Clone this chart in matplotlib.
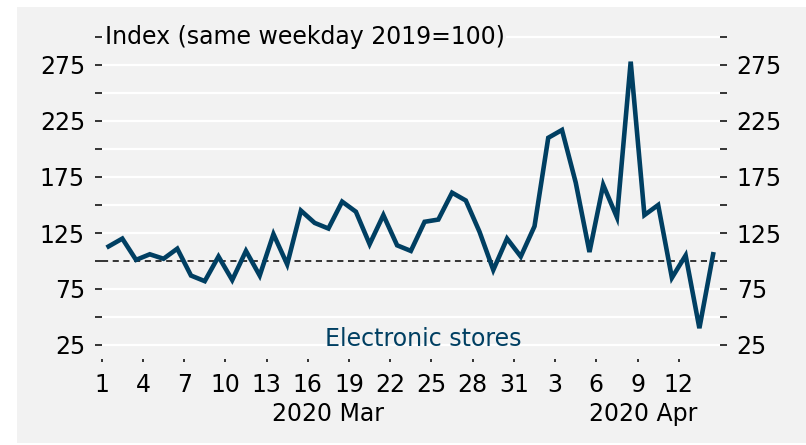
import matplotlib
import numpy as np

matplotlib.use('Agg')
from matplotlib import pyplot as plt
from matplotlib.patches import Rectangle

# daily index, 1 Mar - 14 Apr 2020 (same weekday 2019 = 100)
values = [113, 120, 101, 106, 102, 111, 87, 82, 104, 83, 109, 87, 124, 97, 145,
          134, 129, 153, 144, 115, 141, 114, 109, 135, 137, 161, 154, 126, 92, 120,
          104, 131, 210, 217, 170, 108, 168, 139, 278, 141, 150, 85, 105, 40, 106]
days = np.arange(len(values)) + 0.5   # days since 1 Mar, plotted at midday

xtick_pos = [0, 3, 6, 9, 12, 15, 18, 21, 24, 27, 30, 33, 36, 39, 42]
xtick_labels = ["1", "4", "7", "10", "13", "16", "19", "22", "25", "28", "31",
                "3", "6", "9", "12"]
month_labels = ["2020 Mar", "2020 Apr"]
month_pos = [16.5, 39.4]

ymajor = [25, 75, 125, 175, 225, 275]
yminor = [50, 100, 150, 200, 250, 300]

blue = "#003f62"
panel = "#f2f2f2"
fs = 17

fig = plt.figure(figsize=(8.06, 4.45), dpi=100)
fig.patches.append(Rectangle((17/806, 2/445), 1 - 17/806, 436/445,
                             transform=fig.transFigure, facecolor=panel,
                             edgecolor="none", zorder=-10))

ax = fig.add_axes([101.7/806, 1 - 361.8/445, (720 - 101.7)/806, (361.8 - 25.8)/445])
ax.set_facecolor(panel)
for s in ax.spines.values():
    s.set_visible(False)

for g in range(25, 301, 25):
    if g != 100:
        ax.axhline(g, color="white", lw=1.6, zorder=1)
ax.axhline(100, color="black", lw=1.1, ls=(0, (4, 3)), zorder=2)

ax.plot(days, values, color=blue, lw=3.3, solid_joinstyle="miter", zorder=3)

ax.set_xlim(0, 45)
ax.set_ylim(10, 310)

ax.set_yticks(ymajor)
ax.set_yticks(yminor, minor=True)
ax.set_yticklabels([str(v) for v in ymajor])
ax.tick_params(axis="y", which="both", direction="out", length=5, width=1.1,
               left=True, right=True, labelleft=True, labelright=True,
               labelsize=fs, pad=7)

ax.set_xticks(xtick_pos)
ax.set_xticklabels(xtick_labels)
ax.set_xticks([0, 33], minor=True)
ax.tick_params(axis="x", which="major", direction="in", length=2.5, width=1.1,
               labelsize=fs, pad=8)
ax.tick_params(axis="x", which="minor", direction="in", length=5.5, width=1.4)

for lab, p in zip(month_labels, month_pos):
    ax.text(p, -0.155, lab, transform=ax.get_xaxis_transform(),
            ha="center", va="center", fontsize=fs)

ax.text(0.25, 300, "Index (same weekday 2019=100)", ha="left", va="center",
        fontsize=fs, zorder=4,
        bbox=dict(facecolor=panel, edgecolor="none", pad=1))
ax.text(23.4, 30, "Electronic stores", color=blue, ha="center", va="center",
        fontsize=fs, zorder=4)

fig.savefig("out.png", dpi=100)
